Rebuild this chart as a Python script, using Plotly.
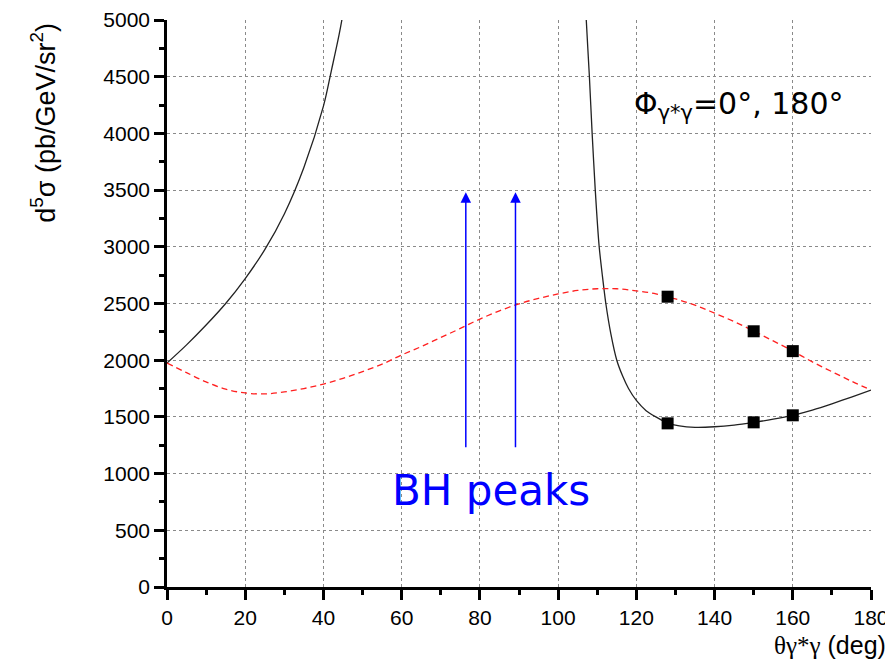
import plotly.graph_objects as go

# ---- data ----
# full model (black solid), left branch (diverges near first BH peak)
bh_left_theta = [0, 5, 10, 15, 20, 25, 30, 35, 40, 42, 44, 45, 46]
bh_left_sigma = [1975, 2135, 2310, 2500, 2720, 2975, 3290, 3700, 4240, 4550, 4870, 5060, 5300]

# full model (black solid), right branch
bh_right_theta = [106.9, 107.2, 108.0, 108.7, 109.5, 110.5, 111.3, 112.2, 113.5, 115, 116.5, 118, 120, 122.5,
                  125, 128, 131, 135, 140, 145, 150, 155, 160, 165, 170, 175, 180]
bh_right_sigma = [5300, 5000, 4500, 4000, 3500, 3000, 2750, 2500, 2230, 2000, 1860, 1750, 1645, 1555,
                  1500, 1445, 1420, 1408, 1413, 1428, 1452, 1480, 1514, 1560, 1615, 1675, 1737]

# red dashed curve
red_theta = [0, 5, 10, 15, 20, 25, 30, 35, 40, 45, 50, 55, 60, 65, 70, 75, 80, 85, 90, 95, 100, 105,
             110, 115, 120, 125, 130, 135, 140, 145, 150, 155, 160, 165, 170, 175, 180]
red_sigma = [1975, 1890, 1808, 1745, 1711, 1703, 1720, 1750, 1790, 1840, 1900, 1965, 2046, 2120, 2200,
             2280, 2363, 2435, 2497, 2545, 2584, 2615, 2630, 2630, 2612, 2585, 2540, 2485, 2415, 2340,
             2257, 2170, 2081, 1985, 1899, 1815, 1737]

# black square markers
pts_theta = [128, 150, 160, 128, 150, 160]
pts_sigma = [2560, 2255, 2080, 1443, 1452, 1514]

# BH peak arrows
bh_peak_theta = [76.4, 89.1]
arrow_bottom = 1220
arrow_top = 3480

x_ticks = [0, 20, 40, 60, 80, 100, 120, 140, 160, 180]
y_ticks = [0, 500, 1000, 1500, 2000, 2500, 3000, 3500, 4000, 4500, 5000]

fig = go.Figure()

fig.add_trace(go.Scatter(x=bh_left_theta, y=bh_left_sigma, mode="lines",
                         line=dict(color="#222222", width=1.3, shape="spline", smoothing=1.0),
                         showlegend=False, hoverinfo="skip"))
fig.add_trace(go.Scatter(x=bh_right_theta, y=bh_right_sigma, mode="lines",
                         line=dict(color="#222222", width=1.3, shape="spline", smoothing=0.6),
                         showlegend=False, hoverinfo="skip"))
fig.add_trace(go.Scatter(x=red_theta, y=red_sigma, mode="lines",
                         line=dict(color="#ff2020", width=1.3, dash="6px,4px", shape="spline", smoothing=1.0),
                         showlegend=False, hoverinfo="skip"))
fig.add_trace(go.Scatter(x=pts_theta, y=pts_sigma, mode="markers",
                         marker=dict(symbol="square", size=12, color="black"),
                         showlegend=False, hoverinfo="skip"))
# empty trace that carries the grid-only overlay axes
fig.add_trace(go.Scatter(x=[None], y=[None], xaxis="x2", yaxis="y2", mode="lines",
                         showlegend=False, hoverinfo="skip"))

annotations = []
for t in bh_peak_theta:
    annotations.append(dict(x=t, y=arrow_top, ax=t, ay=arrow_bottom, xref="x", yref="y",
                            axref="x", ayref="y", text="", showarrow=True,
                            arrowcolor="#0000ff", arrowwidth=1.5, arrowhead=2, arrowsize=1.4))

annotations.append(dict(x=82.8, y=855, xref="x", yref="y", text="BH peaks", showarrow=False,
                        xanchor="center", yanchor="middle",
                        font=dict(family="Comic Sans MS, DejaVu Sans", size=42, color="#0000ff")))

annotations.append(dict(x=146.3, y=4242, xref="x", yref="y",
                        text="Φ<sub>γ*γ</sub>=0°, 180°", showarrow=False,
                        xanchor="center", yanchor="middle",
                        font=dict(family="DejaVu Sans", size=30, color="black")))

annotations.append(dict(x=-0.176, y=0.819, xref="paper", yref="paper", textangle=-90,
                        xanchor="center", yanchor="middle",
                        text="d<sup>5</sup>σ (pb/GeV/sr<sup>2</sup>)", showarrow=False,
                        font=dict(family="Liberation Sans, Arial", size=27, color="black")))

annotations.append(dict(x=0.942, y=-0.102, xref="paper", yref="paper",
                        xanchor="center", yanchor="middle",
                        text="<span style=\"font-family:'Liberation Serif'\">θγ*γ</span> (deg)",
                        showarrow=False,
                        font=dict(family="Liberation Sans, Arial", size=25, color="black")))

axis_common = dict(
    showline=True, linecolor="black", linewidth=2.5, mirror=False,
    ticks="outside", ticklen=10, tickwidth=2.5, tickcolor="black",
    showgrid=False, zeroline=False, automargin=False,
    tickfont=dict(family="Liberation Sans, Arial", size=21, color="black"),
)

grid_common = dict(
    showline=False, ticks="", showticklabels=False, zeroline=False, automargin=False,
    showgrid=True, gridcolor="#8a8a8a", gridwidth=1, griddash="dot",
)

# the page body adds an 8px offset, so the figure is sized to fit the window
fig.update_layout(
    width=885, height=653,
    margin=dict(l=159, r=22, t=12, b=74),
    paper_bgcolor="white", plot_bgcolor="white",
    xaxis=dict(range=[0, 180], tickvals=x_ticks, **axis_common,
               minor=dict(dtick=10, tick0=0, ticks="outside", ticklen=5, tickwidth=2.5,
                          tickcolor="black", showgrid=False)),
    yaxis=dict(range=[0, 5000], tickvals=y_ticks, **axis_common,
               minor=dict(dtick=250, tick0=0, ticks="outside", ticklen=5, tickwidth=2.5,
                          tickcolor="black", showgrid=False)),
    xaxis2=dict(range=[0, 180], tickvals=x_ticks[1:-1], overlaying="x", anchor="y2", **grid_common),
    yaxis2=dict(range=[0, 5000], tickvals=y_ticks[1:-1], overlaying="y", anchor="x2", **grid_common),
    annotations=annotations,
    showlegend=False,
)

fig.write_html("out.html")
